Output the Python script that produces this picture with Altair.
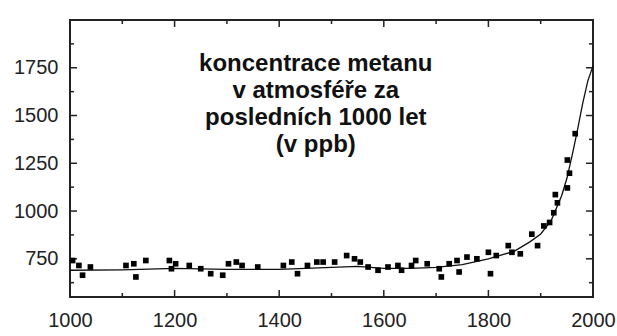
import altair as alt
import pandas as pd

# scatter measurements (year, ppb)
pt_year = [1005, 1017, 1024, 1039, 1107, 1122, 1126, 1145, 1190, 1194, 1202, 1228, 1250, 1269,
           1292, 1303, 1318, 1329, 1359, 1408, 1424, 1435, 1454, 1472, 1484, 1506, 1529, 1544,
           1555, 1570, 1589, 1608, 1627, 1634, 1653, 1661, 1683, 1706, 1710, 1725, 1740, 1744,
           1759, 1778, 1800, 1804, 1815, 1838, 1845, 1861, 1883, 1894, 1906, 1917, 1925, 1928,
           1932, 1951, 1951, 1955, 1966]
pt_ppb = [741, 715, 664, 707, 715, 724, 655, 741, 741, 698, 724, 715, 698, 672,
          664, 724, 733, 715, 707, 715, 733, 672, 715, 733, 733, 733, 767, 750,
          733, 707, 690, 707, 715, 690, 715, 741, 724, 698, 655, 724, 741, 681,
          759, 750, 784, 672, 767, 819, 784, 776, 879, 819, 922, 940, 991, 1086,
          1043, 1121, 1267, 1198, 1405]

# smooth fitted curve
curve_year = [1000, 1100, 1200, 1300, 1400, 1500, 1550, 1600, 1650, 1700, 1750, 1800,
              1850, 1880, 1900, 1920, 1940, 1950, 1960, 1970, 1980, 1990, 2000]
curve_ppb = [690, 692, 700, 695, 695, 705, 710, 700, 700, 705, 720, 750,
             790, 840, 880, 950, 1080, 1170, 1290, 1420, 1560, 1680, 1760]

y_labels = [750, 1000, 1250, 1500, 1750]
y_minor = [625, 875, 1125, 1375, 1625, 1875]
x_labels = [1000, 1200, 1400, 1600, 1800, 2000]
x_minor = [1100, 1300, 1500, 1700, 1900]

title_lines = ["koncentrace metanu", "v atmosféře za", "posledních 1000 let", "(v ppb)"]

W, H = 523, 277

xs = alt.Scale(domain=[1000, 2000], nice=False, zero=False)
ys = alt.Scale(domain=[550, 2000], nice=False, zero=False)

pts = pd.DataFrame({"year": pt_year, "ppb": pt_ppb})
crv = pd.DataFrame({"year": curve_year, "ppb": curve_ppb})

xax = alt.Axis(values=x_labels, format="d", ticks=False, domain=False, grid=False, labelFontSize=20,
               labelFont="Liberation Sans", labelColor="#222", labelPadding=13, title=None,
               labelFlush=False)
yax = alt.Axis(values=y_labels, format="d", ticks=False, domain=False, grid=False, labelFontSize=20,
               labelFont="Liberation Sans", labelColor="#222", labelPadding=12, title=None)

line = alt.Chart(crv).mark_line(color="#111", strokeWidth=1.3).encode(
    x=alt.X("year:Q", scale=xs, axis=xax),
    y=alt.Y("ppb:Q", scale=ys, axis=yax),
)
points = alt.Chart(pts).mark_square(color="#000", size=32, opacity=1).encode(
    x=alt.X("year:Q", scale=xs), y=alt.Y("ppb:Q", scale=ys)
)

txt = alt.Chart(pd.DataFrame({"t": [title_lines]})).mark_text(
    font="Liberation Sans", fontWeight="bold", fontSize=24, lineHeight=27,
    align="center", baseline="top", color="#111"
).encode(
    x=alt.datum(1470, scale=xs), y=alt.datum(1835, scale=ys), text="t:N"
)

ymaj = pd.DataFrame({"v": y_labels})
ymin = pd.DataFrame({"v": y_minor})
xmaj = pd.DataFrame({"v": x_labels[1:-1]})
xmin = pd.DataFrame({"v": x_minor})

def yt(df, L):
    l = alt.Chart(df).mark_rule(color="#222", strokeWidth=1.5).encode(
        y=alt.Y("v:Q", scale=ys), x=alt.value(0), x2=alt.value(L))
    r = alt.Chart(df).mark_rule(color="#222", strokeWidth=1.5).encode(
        y=alt.Y("v:Q", scale=ys), x=alt.value(W - L), x2=alt.value(W))
    return l + r

def xt(df, L):
    b = alt.Chart(df).mark_rule(color="#222", strokeWidth=1.5).encode(
        x=alt.X("v:Q", scale=xs), y=alt.value(H), y2=alt.value(H - L))
    t = alt.Chart(df).mark_rule(color="#222", strokeWidth=1.5).encode(
        x=alt.X("v:Q", scale=xs), y=alt.value(0), y2=alt.value(L))
    return b + t

chart = alt.layer(
    yt(ymaj, 7), yt(ymin, 4), xt(xmaj, 7), xt(xmin, 4), line, points, txt
).properties(
    width=W, height=H,
    autosize=alt.AutoSizeParams(type="none"),
    padding={"left": 70, "top": 20, "right": 24, "bottom": 39},
    background="white",
).configure_view(stroke="#222", strokeWidth=2)

chart.save("out.html", embed_options={"renderer": "svg", "actions": False})
